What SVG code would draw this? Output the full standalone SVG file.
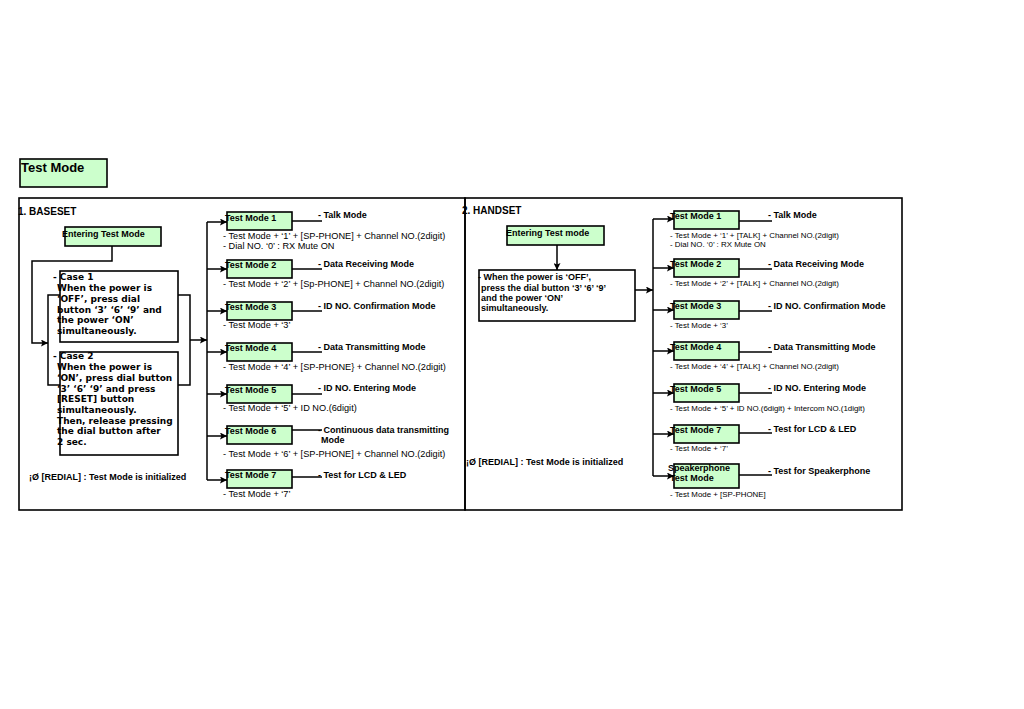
<svg xmlns="http://www.w3.org/2000/svg" width="1024" height="709" viewBox="0 0 1024 709">
<defs>
<marker id="ah" viewBox="0 0 10 10" refX="10" refY="5" markerWidth="10" markerHeight="7" markerUnits="userSpaceOnUse" orient="auto"><path d="M0,0 L10,5 L0,10 L2,5 z" fill="#000"/></marker>
</defs>
<style>
.g{fill:#ccffcc;stroke:#000;stroke-width:1.6}
.w{fill:none;stroke:#000;stroke-width:1.6}
.c{fill:none;stroke:#000;stroke-width:1.5}
.a{fill:none;stroke:#000;stroke-width:1.5;marker-end:url(#ah)}
.b{font-family:"Liberation Sans",Arial,sans-serif;font-weight:bold;font-size:9px;fill:#000}
.d{font-family:"Liberation Sans",Arial,sans-serif;font-size:9.2px;fill:#000}
.dr{font-family:"Liberation Sans",Arial,sans-serif;font-size:7.9px;fill:#000}
.k{font-family:"DejaVu Sans",sans-serif;font-weight:bold;font-size:9px;fill:#000}
.h{font-family:"Liberation Sans",Arial,sans-serif;font-weight:bold;font-size:10px;fill:#000}
</style>
<rect width="1024" height="709" fill="#fff"/>
<g id="title"><rect x="20" y="159" width="87" height="28" class="g"/><text x="21" y="172" font-family="Liberation Sans,Arial,sans-serif" font-weight="bold" font-size="13">Test Mode</text></g>
<g id="frame"><rect x="19" y="198" width="446" height="312" class="w"/><rect x="465" y="198" width="437" height="312" class="w"/></g>
<g id="connectors">
<polyline points="112,246 112,261 32,261 32,343 48,343" class="a"/>
<polyline points="60,295 48,295 48,385 60,385" class="c"/>
<polyline points="178,295 190,295 190,385 178,385" class="c"/>
<line x1="190" y1="340" x2="207" y2="340" class="a"/>
<line x1="207" y1="222" x2="207" y2="480" class="c"/>
<line x1="207" y1="222" x2="227" y2="222" class="a"/>
<line x1="207" y1="269" x2="227" y2="269" class="a"/>
<line x1="207" y1="311" x2="227" y2="311" class="a"/>
<line x1="207" y1="352" x2="227" y2="352" class="a"/>
<line x1="207" y1="394" x2="227" y2="394" class="a"/>
<line x1="207" y1="436" x2="227" y2="436" class="a"/>
<line x1="207" y1="480" x2="227" y2="480" class="a"/>
<line x1="292" y1="221" x2="322" y2="221" class="c"/>
<line x1="292" y1="269" x2="322" y2="269" class="c"/>
<line x1="292" y1="311" x2="322" y2="311" class="c"/>
<line x1="292" y1="352" x2="322" y2="352" class="c"/>
<line x1="292" y1="394" x2="322" y2="394" class="c"/>
<line x1="292" y1="430" x2="322" y2="430" class="c"/>
<line x1="292" y1="477" x2="322" y2="477" class="c"/>
<line x1="557" y1="245" x2="557" y2="270" class="a"/>
<line x1="635" y1="290" x2="653" y2="290" class="a"/>
<line x1="653" y1="219" x2="653" y2="476" class="c"/>
<line x1="653" y1="219" x2="674" y2="219" class="a"/>
<line x1="653" y1="268" x2="674" y2="268" class="a"/>
<line x1="653" y1="310" x2="674" y2="310" class="a"/>
<line x1="653" y1="351" x2="674" y2="351" class="a"/>
<line x1="653" y1="393" x2="674" y2="393" class="a"/>
<line x1="653" y1="434" x2="674" y2="434" class="a"/>
<line x1="653" y1="476" x2="674" y2="476" class="a"/>
<line x1="739" y1="221" x2="772" y2="221" class="c"/>
<line x1="739" y1="269" x2="772" y2="269" class="c"/>
<line x1="739" y1="311" x2="772" y2="311" class="c"/>
<line x1="739" y1="352" x2="772" y2="352" class="c"/>
<line x1="739" y1="393" x2="772" y2="393" class="c"/>
<line x1="739" y1="433" x2="772" y2="433" class="c"/>
<line x1="739" y1="475" x2="772" y2="475" class="c"/>
</g>
<g id="baseset-label"><text x="18" y="215" class="h">1. BASESET</text></g>
<g id="b-enter"><rect x="65" y="227" width="96" height="19" class="g"/><text x="62" y="237" class="b">Entering Test Mode</text></g>
<g id="b-case1"><text class="k"><tspan x="53" y="280">- Case 1</tspan><tspan x="57" y="291">When the power is</tspan><tspan x="57" y="302">‘OFF’, press dial</tspan><tspan x="57" y="313">button ‘3’ ‘6’ ‘9’ and</tspan><tspan x="57" y="323">the power ‘ON’</tspan><tspan x="57" y="334">simultaneously.</tspan></text><rect x="60" y="271" width="118" height="71" class="w"/></g>
<g id="b-case2"><text class="k"><tspan x="53" y="359">- Case 2</tspan><tspan x="57" y="370">When the power is</tspan><tspan x="57" y="381">‘ON’, press dial button</tspan><tspan x="57" y="392">‘3’ ‘6’ ‘9’ and press</tspan><tspan x="57" y="402">[RESET] button</tspan><tspan x="57" y="413">simultaneously.</tspan><tspan x="57" y="424">Then, release pressing</tspan><tspan x="57" y="434">the dial button after</tspan><tspan x="57" y="445">2 sec.</tspan></text><rect x="60" y="352" width="118" height="103" class="w"/></g>
<g id="b-redial"><text x="29" y="480" class="b">¡Ø [REDIAL] : Test Mode is initialized</text></g>
<g id="b-tm1"><rect x="227" y="212" width="65" height="18" class="g"/><text x="225" y="221" class="b">Test Mode 1</text><text x="318" y="218" class="b">- Talk Mode</text><text x="223" y="239" class="d">- Test Mode + ‘1’ + [SP-PHONE] + Channel NO.(2digit)</text><text x="223" y="249" class="d">- Dial NO. ‘0’ : RX Mute ON</text></g>
<g id="b-tm2"><rect x="227" y="260" width="65" height="18" class="g"/><text x="225" y="268" class="b">Test Mode 2</text><text x="318" y="267" class="b">- Data Receiving Mode</text><text x="223" y="287" class="d">- Test Mode + ‘2’ + [Sp-PHONE] + Channel NO.(2digit)</text></g>
<g id="b-tm3"><rect x="227" y="302" width="65" height="18" class="g"/><text x="225" y="310" class="b">Test Mode 3</text><text x="318" y="309" class="b">- ID NO. Confirmation Mode</text><text x="223" y="328" class="d">- Test Mode + ‘3’</text></g>
<g id="b-tm4"><rect x="227" y="343" width="65" height="18" class="g"/><text x="225" y="351" class="b">Test Mode 4</text><text x="318" y="350" class="b">- Data Transmitting Mode</text><text x="223" y="370" class="d">- Test Mode + ‘4’ + [SP-PHONE} + Channel NO.(2digit)</text></g>
<g id="b-tm5"><rect x="227" y="385" width="65" height="18" class="g"/><text x="225" y="393" class="b">Test Mode 5</text><text x="318" y="391" class="b">- ID NO. Entering Mode</text><text x="223" y="411" class="d">- Test Mode + ‘5’ + ID NO.(6digit)</text></g>
<g id="b-tm6"><rect x="227" y="426" width="65" height="18" class="g"/><text x="225" y="434" class="b">Test Mode 6</text><text x="318" y="433" class="b">- Continuous data transmitting</text><text x="321" y="443" class="b">Mode</text><text x="223" y="457" class="d">- Test Mode + ‘6’ + [SP-PHONE] + Channel NO.(2digit)</text></g>
<g id="b-tm7"><rect x="227" y="470" width="65" height="18" class="g"/><text x="225" y="478" class="b">Test Mode 7</text><text x="318" y="478" class="b">- Test for LCD &amp; LED</text><text x="223" y="497" class="d">- Test Mode + ‘7’</text></g>
<g id="handset-label"><text x="462" y="214" class="h">2. HANDSET</text></g>
<g id="h-enter"><rect x="507" y="226" width="97" height="19" class="g"/><text x="506" y="236" class="b">Entering Test mode</text></g>
<g id="h-cond"><rect x="479" y="270" width="156" height="51" class="w"/><text class="b"><tspan x="478" y="280">- When the power is ‘OFF’,</tspan><tspan x="481" y="291">press the dial button ‘3’ ‘6’ ‘9’</tspan><tspan x="481" y="301">and the power ‘ON’</tspan><tspan x="481" y="311">simultaneously.</tspan></text></g>
<g id="h-redial"><text x="466" y="465" class="b">¡Ø [REDIAL] : Test Mode is initialized</text></g>
<g id="h-tm1"><rect x="674" y="211" width="65" height="18" class="g"/><text x="670" y="219" class="b">Test Mode 1</text><text x="768" y="218" class="b">- Talk Mode</text><text x="670" y="238" class="dr">- Test Mode + ‘1’ + [TALK] + Channel NO.(2digit)</text><text x="670" y="247" class="dr">- Dial NO. ‘0’ : RX Mute ON</text></g>
<g id="h-tm2"><rect x="674" y="259" width="65" height="18" class="g"/><text x="670" y="267" class="b">Test Mode 2</text><text x="768" y="267" class="b">- Data Receiving Mode</text><text x="670" y="286" class="dr">- Test Mode + ‘2’ + [TALK] + Channel NO.(2digit)</text></g>
<g id="h-tm3"><rect x="674" y="301" width="65" height="18" class="g"/><text x="670" y="309" class="b">Test Mode 3</text><text x="768" y="309" class="b">- ID NO. Confirmation Mode</text><text x="670" y="328" class="dr">- Test Mode + ‘3’</text></g>
<g id="h-tm4"><rect x="674" y="342" width="65" height="18" class="g"/><text x="670" y="350" class="b">Test Mode 4</text><text x="768" y="350" class="b">- Data Transmitting Mode</text><text x="670" y="369" class="dr">- Test Mode + ‘4’ + [TALK] + Channel NO.(2digit)</text></g>
<g id="h-tm5"><rect x="674" y="384" width="65" height="18" class="g"/><text x="670" y="392" class="b">Test Mode 5</text><text x="768" y="391" class="b">- ID NO. Entering Mode</text><text x="670" y="411" class="dr">- Test Mode + ‘5’ + ID NO.(6digit) + Intercom NO.(1digit)</text></g>
<g id="h-tm7"><rect x="674" y="425" width="65" height="18" class="g"/><text x="670" y="433" class="b">Test Mode 7</text><text x="768" y="432" class="b">- Test for LCD &amp; LED</text><text x="670" y="451" class="dr">- Test Mode + ‘7’</text></g>
<g id="h-sp"><rect x="674" y="464" width="65" height="24" class="g"/><text x="668" y="471" class="b">Speakerphone</text><text x="670" y="481" class="b">Test Mode</text><text x="768" y="474" class="b">- Test for Speakerphone</text><text x="670" y="497" class="dr">- Test Mode + [SP-PHONE]</text></g>
</svg>
